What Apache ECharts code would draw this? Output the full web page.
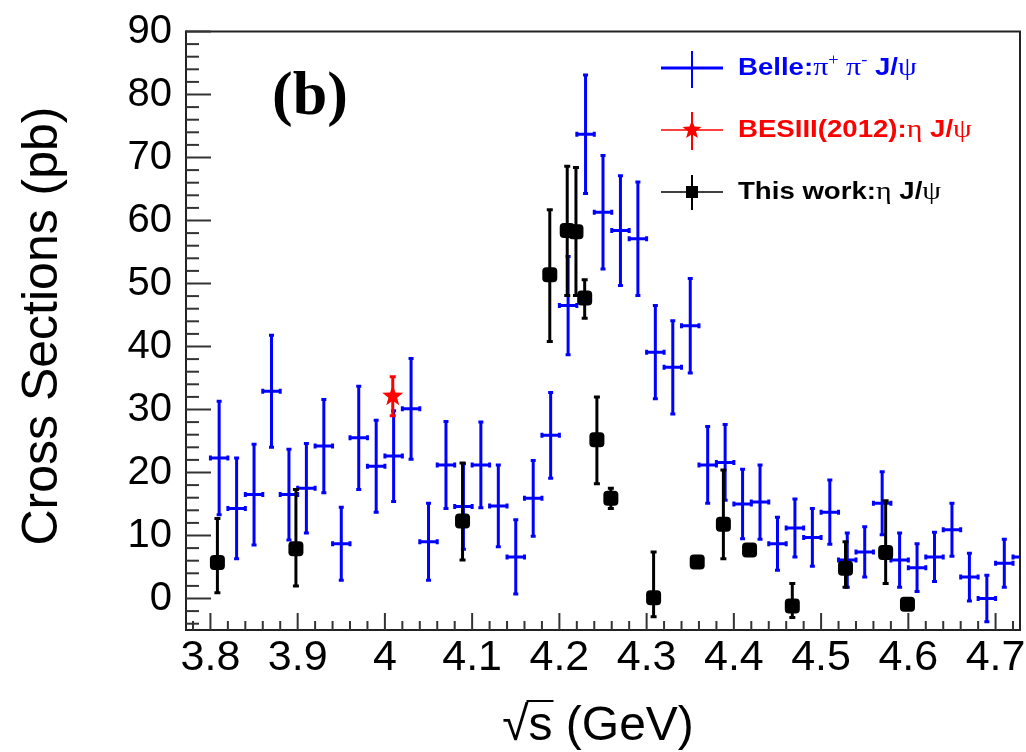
<!DOCTYPE html>
<html><head><meta charset="utf-8">
<script src="https://cdn.jsdelivr.net/npm/echarts@6/dist/echarts.min.js"></script>
<style>html,body{margin:0;padding:0;background:#fff}#c{width:1026px;height:752px}</style>
</head><body><div id="c"></div>
<script>
// ---- data ----
const belleX = [3.81,3.83,3.85,3.87,3.89,3.91,3.93,3.95,3.97,3.99,4.01,4.03,4.05,4.07,4.09,4.11,4.13,4.15,4.17,4.19,4.21,4.23,4.25,4.27,4.29,4.31,4.33,4.35,
                4.37,4.39,4.41,4.43,4.45,4.47,4.49,4.51,4.53,4.55,4.57,4.59,4.61,4.63,4.65,4.67,4.69,4.71,4.73];
const belleY = [22.3,14.3,16.5,32.9,16.5,17.5,24.2,8.7,25.5,21.0,22.6,30.1,9.0,21.2,14.6,21.2,14.7,6.6,15.9,25.9,46.5,73.7,61.3,58.4,57.1,39.1,36.7,43.3,
                21.2,21.6,15.0,15.3,8.7,11.2,9.7,13.7,6.1,7.4,15.1,6.1,4.9,6.6,10.9,3.4,0.0,5.6,6.6];
const belleErr = [9.0,8.0,8.0,8.9,7.2,7.1,7.4,5.8,8.2,7.3,7.2,8.0,6.1,6.9,6.8,6.8,6.5,5.9,6.0,6.8,7.8,9.4,9.0,8.7,9.0,7.4,7.4,7.5,
                  6.1,6.0,5.5,5.9,4.2,4.6,4.6,5.1,4.3,4.0,5.0,4.3,3.8,3.9,4.2,3.8,3.7,3.8,3.7];
const belleXErr = 0.01;

const besX = [4.009];
const besY = [32.1];
const besErr = [3.1];

const workX  = [3.808,3.898,4.089,4.189,4.209,4.219,4.229,4.243,4.259,4.308,4.358,4.388,4.418,4.467,4.528,4.574,4.599];
const workY  = [5.7,7.9,12.3,51.4,58.4,58.2,47.7,25.2,15.9,0.1,5.8,11.8,7.7,-1.2,4.8,7.3,-0.9];
const workLo = [4.8,5.9,6.2,10.6,10.3,10.1,3.2,7.0,1.6,3.0,0.8,5.5,0.8,1.8,3.0,4.9,0.5];
const workHi = [7.0,9.4,9.2,10.3,10.2,10.2,2.9,6.8,1.6,7.3,0.8,8.6,0.8,3.6,4.2,8.2,0.5];

const xMajor = [3.8,3.9,4.0,4.1,4.2,4.3,4.4,4.5,4.6,4.7];
const yMajor = [0,10,20,30,40,50,60,70,80,90];
const XMIN = 3.772, XMAX = 4.728, YMIN = -5, YMAX = 90;

// minor tick positions
const xMinor = [];
for (let k = 189; k <= 236; k++) { const v = +(k * 0.02).toFixed(2); if (Math.abs(v * 10 - Math.round(v * 10)) > 1e-6) xMinor.push(v); }
const yMinor = [];
for (let v = -4; v <= 90; v += 2) { if (v % 10 !== 0) yMinor.push(v); }

// ---- rendering helpers ----
function starPts(cx, cy, R, r) {
  const pts = [];
  for (let i = 0; i < 10; i++) {
    const a = -Math.PI / 2 + i * Math.PI / 5;
    const rad = i % 2 === 0 ? R : r;
    pts.push([cx + rad * Math.cos(a), cy + rad * Math.sin(a)]);
  }
  return pts;
}
function seg(x1, y1, x2, y2, style) { return { type: 'line', shape: { x1, y1, x2, y2 }, style }; }
function renderErr(opts) {
  return function (params, api) {
    const x = api.value(0), y = api.value(1), lo = api.value(2), hi = api.value(3), xe = api.value(4);
    const p = api.coord([x, y]), pt = api.coord([x, y + hi]), pb = api.coord([x, y - lo]);
    const st = { stroke: opts.color, lineWidth: opts.lw };
    const c = opts.cap;
    const ch = [];
    ch.push(seg(p[0], pt[1], p[0], pb[1], st));
    ch.push(seg(p[0] - c, pt[1], p[0] + c, pt[1], st));
    ch.push(seg(p[0] - c, pb[1], p[0] + c, pb[1], st));
    if (xe > 0) {
      const pl = api.coord([x - xe, y]), pr = api.coord([x + xe, y]);
      ch.push(seg(pl[0], p[1], pr[0], p[1], st));
      ch.push(seg(pl[0], p[1] - c, pl[0], p[1] + c, st));
      ch.push(seg(pr[0], p[1] - c, pr[0], p[1] + c, st));
    }
    if (opts.marker === 'square') ch.push({ type: 'rect', shape: { x: p[0] - 7.5, y: p[1] - 7.5, width: 15, height: 15, r: 4 }, style: { fill: opts.color } });
    if (opts.marker === 'star') ch.push({ type: 'polygon', shape: { points: starPts(p[0], p[1], 11, 4.6) }, style: { fill: opts.color } });
    return { type: 'group', children: ch };
  };
}
const tickStroke = { stroke: '#333', lineWidth: 2 };
function renderXTick(len) {
  return function (params, api) {
    const p = api.coord([api.value(0), api.value(1)]);
    return seg(p[0], p[1], p[0], p[1] - len, tickStroke);
  };
}
function renderYTick(len) {
  return function (params, api) {
    const p = api.coord([api.value(0), api.value(1)]);
    return seg(p[0], p[1], p[0] + len, p[1], tickStroke);
  };
}

const belleData = belleX.map((x, i) => [x, belleY[i], belleErr[i], belleErr[i], belleXErr]);
const besData = besX.map((x, i) => [x, besY[i], besErr[i], besErr[i], 0]);
const workData = workX.map((x, i) => [x, workY[i], workLo[i], workHi[i], 0]);

// ---- text measurement for x title overline ----
const mc = document.createElement('canvas').getContext('2d');
const titleFs = 48;
mc.font = titleFs + 'px "Liberation Sans"';
const titleText = '\u221As (GeV)';
const titleCx = 598, titleCy = 727;
const tW = mc.measureText(titleText).width;
const sqW = mc.measureText('\u221A').width;
const sW = mc.measureText('s').width;
const tStart = titleCx - tW / 2;

const lineStyle = { color: '#222', width: 2 };
const chart = echarts.init(document.getElementById('c'), null, { renderer: 'canvas' });
const greek = '"Liberation Serif", "DejaVu Serif", serif';
const sans = '"Liberation Sans", Arial, sans-serif';
function legendRich(color) {
  return {
    b: { fontFamily: sans, fontWeight: 'bold', fontSize: 24, fill: color, color: color },
    g: { fontFamily: greek, fontWeight: 'normal', fontSize: 26, fill: color, color: color },
    sup: { fontFamily: greek, fontWeight: 'normal', fontSize: 16, fill: color, color: color, padding: [0, 0, 14, 0], verticalAlign: 'bottom' }
  };
}
function legendText(y, text, color) {
  return {
    type: 'text', x: 738, y: y, scaleX: 1.15,
    style: { text: text, rich: legendRich(color), fill: color, fontFamily: sans, fontWeight: 'bold', fontSize: 24,
             align: 'left', verticalAlign: 'middle', textAlign: 'left', textVerticalAlign: 'middle' },
    z: 100
  };
}
const tickSeries = (data, fn) => ({ type: 'custom', xAxisIndex: 0, yAxisIndex: 0, clip: false, silent: true, z: 2,
  renderItem: fn, data: data });

const option = {
  animation: false,
  backgroundColor: '#fff',
  grid: { left: 186, right: 6, top: 31.5, bottom: 122, show: true, borderColor: '#222', borderWidth: 2, containLabel: false, outerBoundsMode: 'none' },
  xAxis: [
    { type: 'value', position: 'bottom', min: XMIN, max: XMAX, axisLine: { show: true, onZero: false, lineStyle: lineStyle }, splitLine: { show: false },
      axisTick: { show: false },
      axisLabel: { customValues: xMajor, fontSize: 43, color: '#000', fontFamily: sans, margin: 7,
                   formatter: v => String(+(+v).toFixed(1)) } }
  ],
  yAxis: [
    { type: 'value', position: 'left', min: YMIN, max: YMAX, axisLine: { show: true, onZero: false, lineStyle: lineStyle }, splitLine: { show: false },
      axisTick: { show: false },
      axisLabel: { customValues: yMajor, fontSize: 40, color: '#000', fontFamily: sans, margin: 14 } }
  ],
  series: [
    tickSeries(xMajor.map(v => [v, YMIN]), renderXTick(17)),
    tickSeries(xMinor.map(v => [v, YMIN]), renderXTick(9)),
    tickSeries(yMajor.map(v => [XMIN, v]), renderYTick(25)),
    tickSeries(yMinor.map(v => [XMIN, v]), renderYTick(13)),
    { name: 'Belle', type: 'custom', xAxisIndex: 0, yAxisIndex: 0, clip: true, z: 3,
      renderItem: renderErr({ color: '#0000ff', lw: 3, cap: 2.5 }), data: belleData },
    { name: 'This work', type: 'custom', xAxisIndex: 0, yAxisIndex: 0, clip: true, z: 4,
      renderItem: renderErr({ color: '#000000', lw: 3, cap: 3, marker: 'square' }), data: workData },
    { name: 'BESIII(2012)', type: 'custom', xAxisIndex: 0, yAxisIndex: 0, clip: true, z: 5,
      renderItem: renderErr({ color: '#ff0000', lw: 3, cap: 3, marker: 'star' }), data: besData }
  ],
  graphic: [
    // axis titles
    { type: 'text', x: 43, y: 326, rotation: Math.PI / 2,
      style: { text: 'Cross Sections (pb)', fontSize: 50, fontFamily: sans, fill: '#000',
               align: 'center', verticalAlign: 'middle', textAlign: 'center', textVerticalAlign: 'middle' } },
    { type: 'text', x: titleCx, y: titleCy,
      style: { text: titleText, fontSize: titleFs, fontFamily: sans, fill: '#000',
               align: 'center', verticalAlign: 'middle', textAlign: 'center', textVerticalAlign: 'middle' } },
    { type: 'line', shape: { x1: tStart + sqW - 2, y1: 701, x2: tStart + sqW + sW + 1, y2: 701 }, style: { stroke: '#000', lineWidth: 2 } },
    // panel label
    { type: 'text', x: 310, y: 98,
      style: { text: '(b)', fontSize: 62, fontWeight: 'bold', fontFamily: '"Liberation Serif", "Times New Roman", serif', fill: '#000',
               align: 'center', verticalAlign: 'middle', textAlign: 'center', textVerticalAlign: 'middle' } },
    // legend: Belle
    { type: 'line', shape: { x1: 661, y1: 68, x2: 723, y2: 68 }, style: { stroke: '#0000ff', lineWidth: 3 } },
    { type: 'line', shape: { x1: 692, y1: 51, x2: 692, y2: 88 }, style: { stroke: '#0000ff', lineWidth: 2 } },
    legendText(68, '{b|Belle:}{g|\u03C0}{sup|+}{g| \u03C0}{sup|-}{b| J/}{g|\u03C8}', '#0000ff'),
    // legend: BESIII
    { type: 'line', shape: { x1: 661, y1: 130, x2: 723, y2: 130 }, style: { stroke: '#ff0000', lineWidth: 1.5 } },
    { type: 'line', shape: { x1: 692, y1: 112, x2: 692, y2: 150 }, style: { stroke: '#ff0000', lineWidth: 2 } },
    { type: 'polygon', shape: { points: starPts(692, 130, 10, 4.2) }, style: { fill: '#ff0000' } },
    legendText(130, '{b|BESIII(2012):}{g|\u03B7}{b| J/}{g|\u03C8}', '#ff0000'),
    // legend: This work
    { type: 'line', shape: { x1: 661, y1: 192, x2: 723, y2: 192 }, style: { stroke: '#000', lineWidth: 1.5 } },
    { type: 'line', shape: { x1: 692, y1: 175, x2: 692, y2: 210 }, style: { stroke: '#000', lineWidth: 2 } },
    { type: 'rect', shape: { x: 686, y: 186, width: 12, height: 12 }, style: { fill: '#000' } },
    legendText(192, '{b|This work:}{g|\u03B7}{b| J/}{g|\u03C8}', '#000')
  ]
};
chart.setOption(option);
</script>
</body></html>
